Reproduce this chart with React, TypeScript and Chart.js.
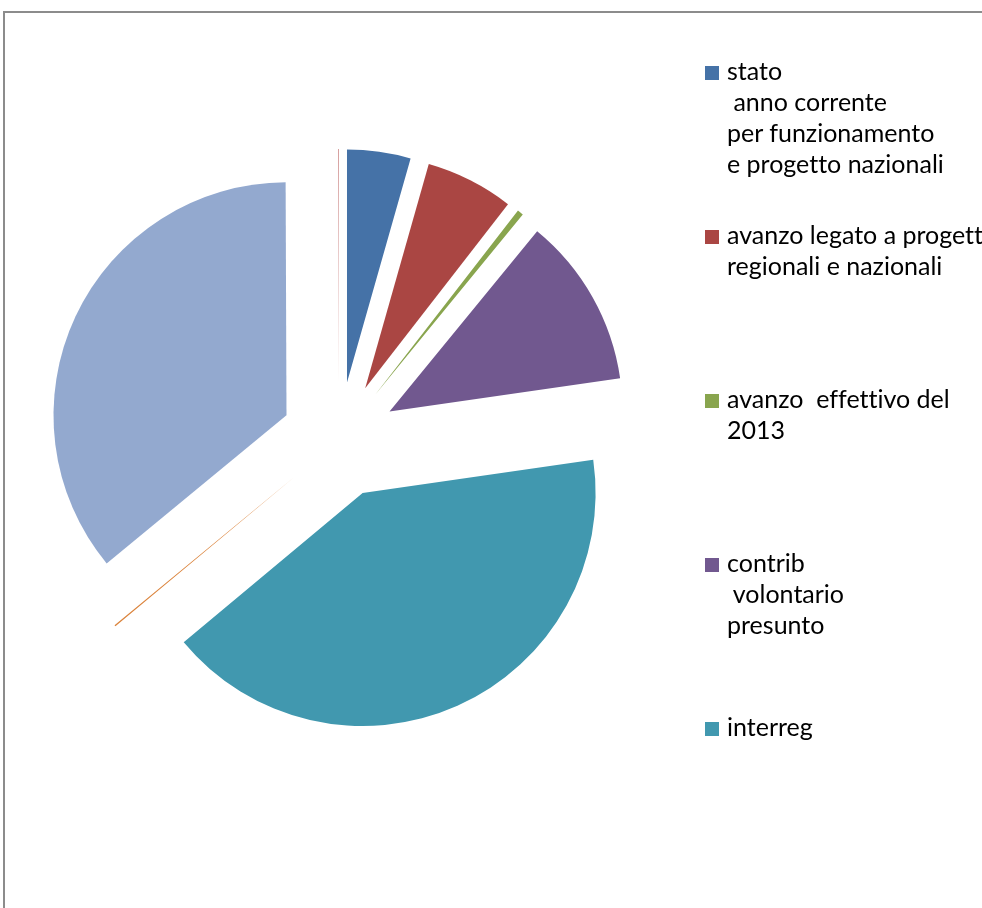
import React, { useEffect, useRef } from "react";
import { Chart, registerables } from "chart.js";

Chart.register(...registerables);

// ---- data ----
const categories = [
  "stato anno corrente per funzionamento e progetto nazionali",
  "avanzo legato a progetti regionali e nazionali",
  "avanzo  effettivo del 2013",
  "contrib volontario presunto",
  "interreg",
  "voce 6",
  "voce 7",
  "voce 8",
];
const values = [4.4, 6.1, 0.42, 11.8, 41.2, 0.1, 35.9, 0.06];
const colors = [
  "#4572A7",
  "#AA4643",
  "#89A54E",
  "#71588F",
  "#4198AF",
  "#DB843D",
  "#93A9CF",
  "#D19392",
];
const legendLines = [
  ["stato", " anno corrente", "per funzionamento", "e progetto nazionali"],
  ["avanzo legato a progetti", "regionali e nazionali"],
  ["avanzo  effettivo del", "2013"],
  ["contrib", " volontario", "presunto"],
  ["interreg"],
];

// ---- layout ----
const W = 982;
const H = 908;
const RADIUS = 233;
const EXPLODE = 58;
const LEGEND_X = 705;
const LEGEND_TOP = 73;
const LEGEND_STEP = 164;
const LINE_H = 31;
const FONT_SIZE = 25;

const explodePlugin = {
  id: "explode",
  afterDatasetsUpdate(chart: any) {
    const meta = chart.getDatasetMeta(0);
    meta.data.forEach((arc: any) => {
      const mid = (arc.startAngle + arc.endAngle) / 2;
      arc.x += EXPLODE * Math.cos(mid);
      arc.y += EXPLODE * Math.sin(mid);
    });
  },
};

export default function App() {
  const ref = useRef<HTMLCanvasElement | null>(null);

  useEffect(() => {
    if (!ref.current) return;
    const chart = new Chart(ref.current, {
      type: "pie",
      data: {
        labels: categories,
        datasets: [
          {
            data: values,
            backgroundColor: colors,
            borderWidth: 0,
          },
        ],
      },
      options: {
        responsive: false,
        animation: false,
        events: [],
        radius: RADIUS,
        layout: { padding: { left: 0, top: 0, right: 304, bottom: 28 } },
        plugins: {
          legend: { display: false },
          tooltip: { enabled: false },
        },
      } as any,
      plugins: [explodePlugin],
    });
    return () => chart.destroy();
  }, []);

  return (
    <div
      style={{
        position: "absolute",
        left: 0,
        top: 0,
        width: W,
        height: H,
        overflow: "hidden",
        background: "#fff",
      }}
    >
      <div
        style={{
          position: "absolute",
          left: 3,
          top: 11,
          width: W + 20,
          height: H + 20,
          borderTop: "2px solid #8c8c8c",
          borderLeft: "2px solid #8c8c8c",
          boxSizing: "border-box",
        }}
      />
      <canvas
        ref={ref}
        width={W}
        height={H}
        style={{ position: "absolute", left: 0, top: 0, width: W, height: H }}
      />
      {legendLines.map((lines, i) => {
        const yc = LEGEND_TOP + LEGEND_STEP * i;
        return (
          <React.Fragment key={i}>
            <div
              style={{
                position: "absolute",
                left: LEGEND_X,
                top: yc - 7,
                width: 14,
                height: 14,
                background: colors[i],
              }}
            />
            <div
              style={{
                position: "absolute",
                left: LEGEND_X + 22,
                top: yc - 18,
                whiteSpace: "pre",
                fontFamily: "Lato, sans-serif",
                fontSize: FONT_SIZE,
                lineHeight: LINE_H + "px",
                fontVariantLigatures: "none",
                color: "#000",
              }}
            >
              {lines.join("\n")}
            </div>
          </React.Fragment>
        );
      })}
    </div>
  );
}
